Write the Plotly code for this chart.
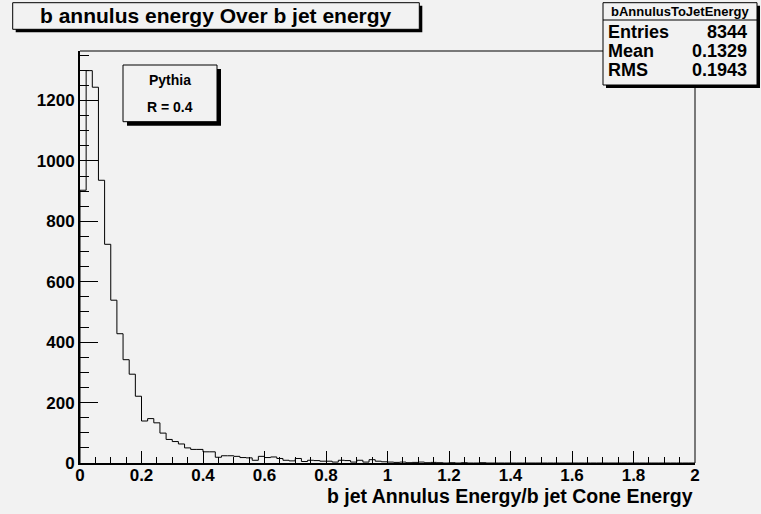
import plotly.graph_objects as go

# histogram bAnnulusToJetEnergy, 100 bins on [0, 2]
bin_low = 0.0
bin_high = 2.0
counts = [
    903, 1299, 1244, 936, 724, 539, 428, 342, 294, 221,
    139, 147, 133, 99, 78, 71, 63, 50, 45, 45,
    37, 37, 19, 24, 24, 22, 18, 17, 9, 22,
    18, 20, 15, 9, 7, 15, 5, 9, 8, 6,
    6, 3, 9, 8, 3, 9, 3, 11, 6, 4,
    3, 2, 3, 1, 2, 3, 1, 2, 1, 0,
    1, 0, 1, 0, 0, 1, 0, 0, 0, 0,
    0, 0, 0, 0, 0, 0, 0, 0, 0, 0,
    0, 0, 0, 0, 0, 0, 0, 0, 0, 0,
    0, 0, 0, 0, 0, 0, 0, 0, 0, 0,
]
x_tick_vals = [0, 0.2, 0.4, 0.6, 0.8, 1.0, 1.2, 1.4, 1.6, 1.8, 2.0]
x_tick_text = ["0", "0.2", "0.4", "0.6", "0.8", "1", "1.2", "1.4", "1.6", "1.8", "2"]
y_tick_vals = [0, 200, 400, 600, 800, 1000, 1200]
y_tick_text = ["0", "200", "400", "600", "800", "1000", "1200"]
stats_labels = ["Entries", "Mean", "RMS"]
stats_values = ["8344", "0.1329", "0.1943"]

nbins = len(counts)
width = (bin_high - bin_low) / nbins
edges = [bin_low + i * width for i in range(nbins + 1)]

BG = "#f2f2f2"
FONT = "Liberation Sans, Arial, Helvetica, sans-serif"
W, H = 761, 514
L, R, T, B = 80, 695, 51, 463


def px(x):
    return (x - L) / (R - L)


def py(y):
    return (B - y) / (B - T)


fig = go.Figure()
fig.add_trace(go.Scatter(
    x=[edges[0]] + edges,
    y=[0] + counts + [counts[-1]],
    mode="lines",
    line=dict(color="black", width=1, shape="hv"),
    hoverinfo="skip",
))

shapes = []


def box(x0, y0, x1, y1, shadow):
    shapes.append(dict(type="rect", xref="paper", yref="paper", layer="above",
                       x0=px(x0 + shadow), x1=px(x1 + shadow), y0=py(y1 + shadow), y1=py(y0 + shadow),
                       fillcolor="black", line=dict(width=0)))
    shapes.append(dict(type="rect", xref="paper", yref="paper", layer="above",
                       x0=px(x0), x1=px(x1), y0=py(y1), y1=py(y0),
                       fillcolor=BG, line=dict(color="black", width=1)))


# frame top and right
shapes.append(dict(type="line", xref="paper", yref="paper", x0=0, x1=1, y0=1, y1=1,
                   line=dict(color="black", width=1)))
shapes.append(dict(type="line", xref="paper", yref="paper", x0=1, x1=1, y0=0, y1=1,
                   line=dict(color="black", width=1)))

box(12.7, 2.7, 419.3, 29.3, 3)      # title
box(603, 2.7, 757, 85, 3)           # stats
box(123, 65, 217, 121.7, 4)         # legend
shapes.append(dict(type="line", xref="paper", yref="paper", layer="above",
                   x0=px(603), x1=px(757), y0=py(20), y1=py(20),
                   line=dict(color="black", width=1)))

ann = []


def text(x, y, s, size, xanchor="center"):
    ann.append(dict(x=px(x), y=py(y), xref="paper", yref="paper", text=s,
                    showarrow=False, xanchor=xanchor, yanchor="middle", borderpad=0,
                    font=dict(family=FONT, size=size, color="black", weight="bold")))


text(216, 16, "b annulus energy Over b jet energy", 21)
text(680, 11.5, "bAnnulusToJetEnergy", 13)
for i, (lab, val) in enumerate(zip(stats_labels, stats_values)):
    yy = 32 + i * 19
    text(607, yy, lab, 18, "left")
    text(748, yy, val, 18, "right")
text(170, 80, "Pythia", 14)
text(170, 107, "R = 0.4", 14)
text(694, 496, "b jet Annulus Energy/b jet Cone Energy", 19.5, "right")

fig.update_layout(
    width=W, height=H,
    margin=dict(l=L, r=W - R, t=T, b=H - B, pad=0),
    paper_bgcolor=BG, plot_bgcolor=BG,
    showlegend=False,
    shapes=shapes,
    annotations=ann,
    font=dict(family=FONT, color="black"),
)
fig.update_xaxes(
    range=[bin_low, bin_high], showgrid=False, zeroline=False,
    showline=True, linecolor="black", linewidth=2,
    ticks="inside", ticklen=12, tickwidth=1, tickcolor="black",
    tickvals=x_tick_vals, ticktext=x_tick_text, ticklabelstandoff=-4,
    tickfont=dict(family=FONT, size=17, weight="bold"),
    minor=dict(ticks="inside", ticklen=6, dtick=0.05, tickcolor="black", tickwidth=1),
)
fig.update_yaxes(
    range=[0, 1.05 * max(counts)], showgrid=False, zeroline=False,
    showline=True, linecolor="black", linewidth=2,
    ticks="inside", ticklen=18, tickwidth=1, tickcolor="black",
    tickvals=y_tick_vals, ticktext=y_tick_text,
    tickfont=dict(family=FONT, size=17, weight="bold"),
    minor=dict(ticks="inside", ticklen=9, dtick=50, tickcolor="black", tickwidth=1),
)

fig.write_html("out.html", config={"displayModeBar": False},
               post_script="document.body.style.margin='0';")
